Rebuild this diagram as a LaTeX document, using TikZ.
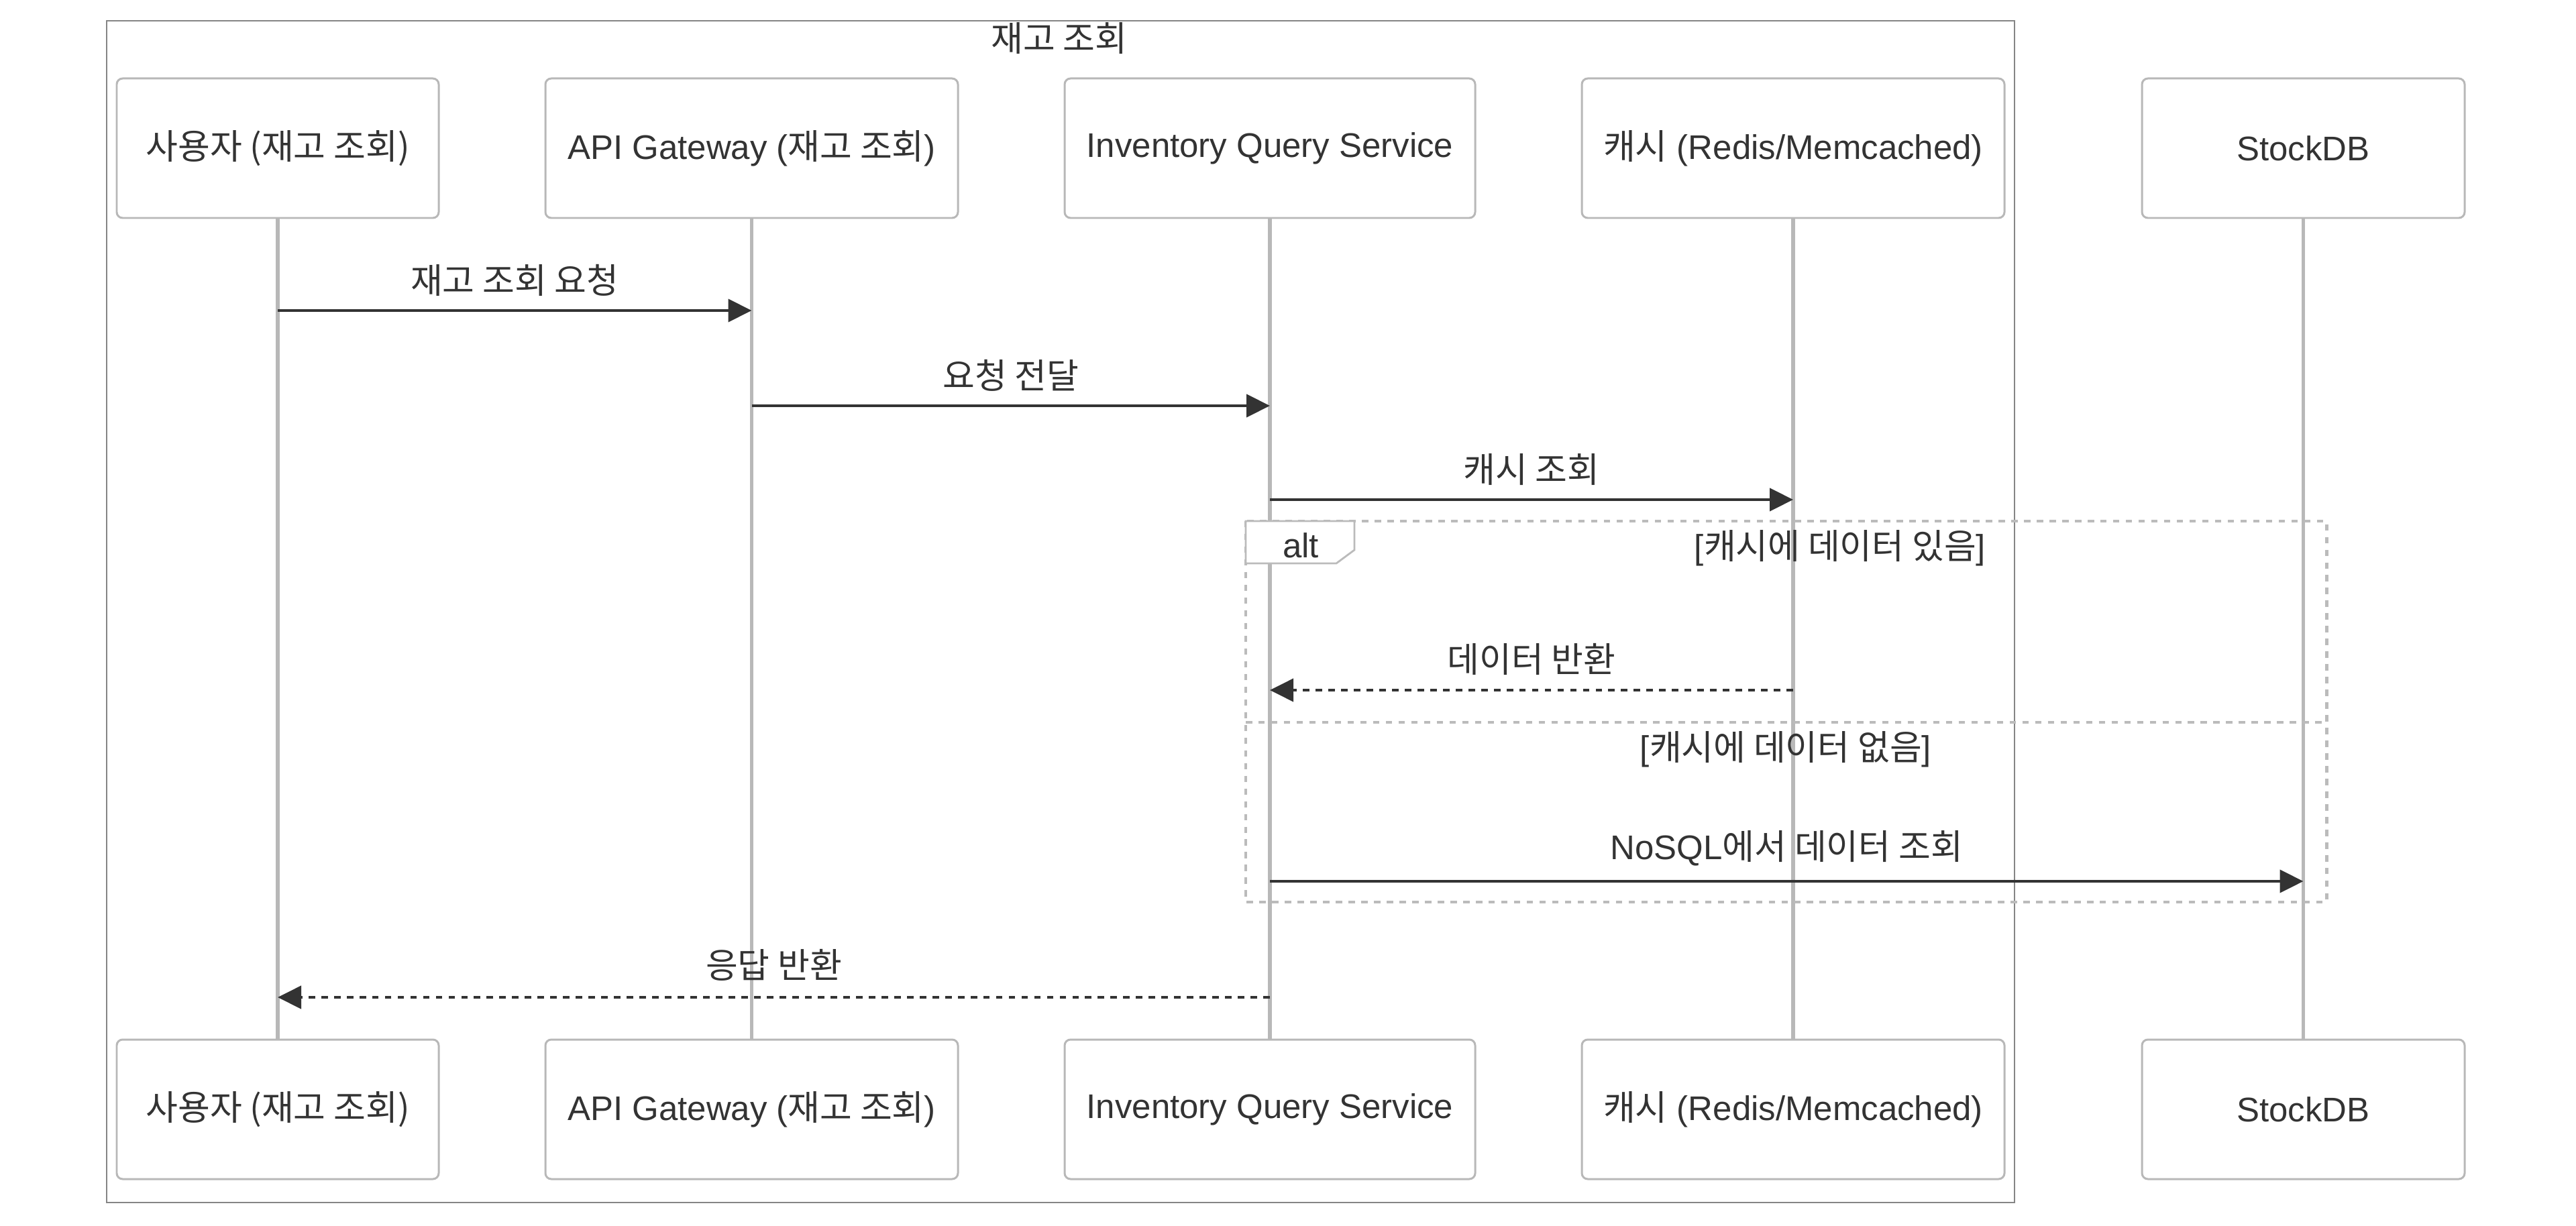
\documentclass[tikz,border=0pt]{standalone}
\usepackage{fontspec}
\setmainfont{Liberation Sans}
\newfontfamily\kofont[Scale=1.02]{Noto Sans CJK KR}
\newcommand\ko[1]{{\kofont #1}}
\usetikzlibrary{arrows.meta,calc,positioning}
\definecolor{SeqInk}{HTML}{333333}
\definecolor{SeqLine}{HTML}{B8B8B8}
\definecolor{SeqFrame}{HTML}{BBBBBB}
\definecolor{SeqGroup}{HTML}{858585}
\tikzset{
  every node/.style={font=\fontsize{14.5}{17}\selectfont, text=SeqInk},
  actor/.style={draw=SeqLine, line width=0.85pt, fill=white, rounded corners=2.5pt, minimum height=2.08cm, inner sep=0pt},
  lifeline/.style={draw=SeqLine, line width=1.5pt},
  group/.style={draw=SeqGroup, line width=0.6pt},
  frame/.style={draw=SeqFrame, line width=1.4pt, dash pattern=on 2.7pt off 2.7pt},
  tab/.style={draw=SeqFrame, line width=0.8pt, fill=white},
  msg/.style={-{Triangle[length=3.5mm,width=3.4mm]}, draw=SeqInk, line width=1.15pt},
  reply/.style={msg, dash pattern=on 2.8pt off 2.6pt},
}

\begin{document}
\begin{tikzpicture}[x=1cm,y=1cm]
  \useasboundingbox (0,0) rectangle (38.4,-18.28);
  \draw[group] (1.59,-0.31) rectangle (30.03,-17.93);
  \node (title) at (15.79,-0.57) {\ko{재고 조회}};
  \foreach \y/\s in {-2.21/top,-16.54/bot}{
    \node[actor, minimum width=4.80cm] (user-\s) at (4.14,\y) {\ko{사용자 (재고 조회)}};
    \node[actor, minimum width=6.15cm] (gate-\s) at (11.205,\y) {API Gateway (\ko{재고 조회})};
    \node[actor, minimum width=6.12cm] (inv-\s) at (18.93,\y) {Inventory Query Service};
    \node[actor, minimum width=6.30cm] (cache-\s) at (26.73,\y) {\ko{캐시} (Redis/Memcached)};
    \node[actor, minimum width=4.81cm] (stock-\s) at (34.335,\y) {StockDB};
  }
  \foreach \n in {user,gate,inv,cache,stock}
    \draw[lifeline] (\n-top.south) -- (\n-bot.north);
  \draw[frame] (18.57,-7.77) rectangle (34.68,-13.45);
  \draw[frame] (18.57,-10.77) -- (34.68,-10.77);
  \draw[tab] (18.57,-7.77) -- (20.19,-7.77) -- (20.19,-8.20) -- (19.92,-8.40) -- (18.57,-8.40) -- cycle;
  \node (alt) at (19.39,-8.13) {alt};
  \node (hit) at (27.43,-8.17) {[\ko{캐시에 데이터 있음}]};
  \node (miss) at (26.62,-11.17) {[\ko{캐시에 데이터 없음}]};
  \coordinate (r1) at (0,-4.63);
  \coordinate (r2) at (0,-6.05);
  \coordinate (r3) at (0,-7.45);
  \coordinate (r4) at (0,-10.29);
  \coordinate (r5) at (0,-13.14);
  \coordinate (r6) at (0,-14.87);
  \draw[msg] (user-top |- r1) -- (gate-top |- r1) node[midway, yshift=0.45cm] {\ko{재고 조회 요청}};
  \draw[msg] (gate-top |- r2) -- (inv-top |- r2) node[midway, yshift=0.45cm] {\ko{요청 전달}};
  \draw[msg] (inv-top |- r3) -- (cache-top |- r3) node[midway, yshift=0.45cm] {\ko{캐시 조회}};
  \draw[reply] (cache-top |- r4) -- (inv-top |- r4) node[midway, yshift=0.46cm] {\ko{데이터 반환}};
  \draw[msg] (inv-top |- r5) -- (stock-top |- r5) node[midway, yshift=0.49cm] {NoSQL\ko{에서 데이터 조회}};
  \draw[reply] (inv-top |- r6) -- (user-top |- r6) node[midway, yshift=0.48cm] {\ko{응답 반환}};
\end{tikzpicture}
\end{document}
